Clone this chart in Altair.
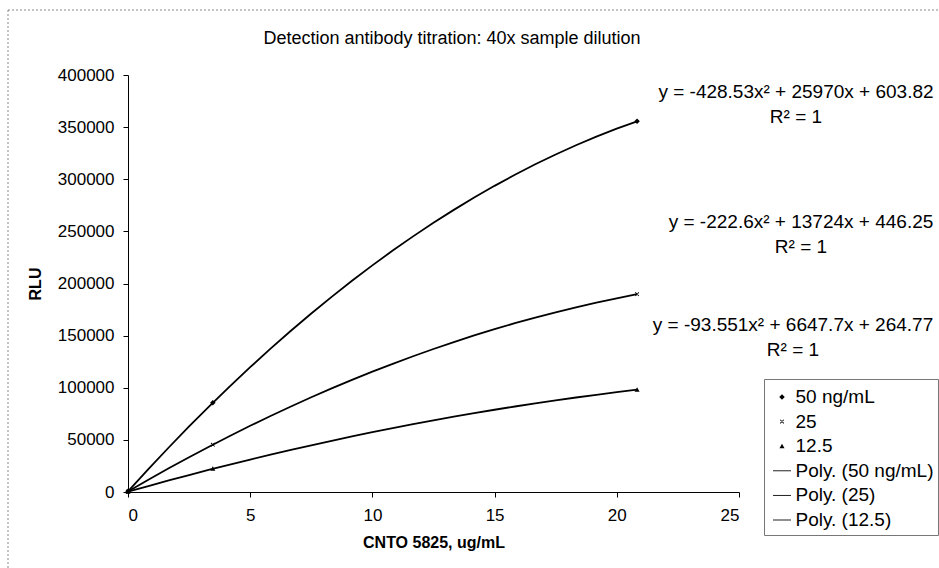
import altair as alt
import pandas as pd

# ---------------- data ----------------
series_names = ["50 ng/mL", "25", "12.5"]
conc_ug_ml = [0.0, 3.47, 20.83]
rlu_50 = [604, 85550, 355600]
rlu_25 = [446, 45390, 189700]
rlu_12_5 = [265, 22200, 98100]

legend_entries = ["50 ng/mL", "25", "12.5",
                  "Poly. (50 ng/mL)", "Poly. (25)", "Poly. (12.5)"]
equation_lines = [
    "y = -428.53x² + 25970x + 603.82",
    "y = -222.6x² + 13724x + 446.25",
    "y = -93.551x² + 6647.7x + 264.77",
]
r2_line = "R² = 1"
x_ticks = [0, 5, 10, 15, 20, 25]
y_ticks = [0, 50000, 100000, 150000, 200000, 250000, 300000, 350000, 400000]
title_text = "Detection antibody titration: 40x sample dilution"
x_title = "CNTO 5825, ug/mL"
y_title = "RLU"

rows = []
for name, vals in zip(series_names, [rlu_50, rlu_25, rlu_12_5]):
    for c, v in zip(conc_ug_ml, vals):
        rows.append({"series": name, "conc": c, "rlu": v})
df = pd.DataFrame(rows)

FONT = "Liberation Sans"
W, H = 611, 417
PAD = {"left": 128, "top": 75, "right": 939 - 128 - W, "bottom": 568 - 75 - H}

# filled symbol shapes (custom paths in a [-1,1] box)
diamond = "M0,-0.22L0.22,0L0,0.22L-0.22,0Z"
xcross = ("M-0.17,-0.12L-0.12,-0.17L0.17,0.12L0.12,0.17Z"
          "M0.17,-0.12L0.12,-0.17L-0.17,0.12L-0.12,0.17Z")
triangle = "M0,-0.2L0.2,0.16L-0.2,0.16Z"
line_sym = "M-0.72,-0.035L0.72,-0.035L0.72,0.035L-0.72,0.035Z"

x_enc = alt.X("conc:Q", scale=alt.Scale(domain=[0, 25], nice=False),
              axis=alt.Axis(values=x_ticks, title=x_title, format="d",
                            titleFontSize=16, titleFontWeight="bold",
                            titleFont=FONT, titleY=50, titleBaseline="middle",
                            labelPadding=10))
y_enc = alt.Y("rlu:Q", scale=alt.Scale(domain=[0, 400000], nice=False),
              axis=alt.Axis(values=y_ticks, title=y_title, format="d",
                            titleFontSize=16, titleFontWeight="bold",
                            titleFont=FONT, titleX=-93, titleY=H / 2,
                            titleAngle=-90, titleBaseline="middle",
                            titleAlign="center", labelPadding=9))

curves = alt.Chart(df).transform_regression(
    "conc", "rlu", groupby=["series"], method="poly", order=2
).mark_line(color="black", strokeWidth=1.8).encode(
    x=x_enc, y=y_enc, detail="series:N"
)

points = alt.Chart(df).mark_point(
    filled=True, color="black", size=625, opacity=1
).encode(
    x="conc:Q",
    y="rlu:Q",
    shape=alt.Shape(
        "series:N",
        scale=alt.Scale(domain=legend_entries,
                        range=[diamond, xcross, triangle,
                               line_sym, line_sym, line_sym]),
        legend=alt.Legend(
            title=None, orient="none", legendX=636, legendY=304,
            symbolSize=625, labelFontSize=19, labelFont=FONT,
            labelColor="black", labelOffset=0, rowPadding=0.6, padding=4.5,
            strokeColor="#777", labelLimit=300,
            symbolFillColor="black", symbolOpacity=1,
        ),
    ),
)

# annotations (trend-line equations, title, chart border)
one = pd.DataFrame({"k": [0]})
eq_pos = [(796, 92), (801, 222), (793, 325)]
eq_layers = []
for txt, (px, py) in zip(equation_lines, eq_pos):
    eq_layers.append(
        alt.Chart(pd.DataFrame({"t": [txt + "\n" + r2_line]})).mark_text(
            font=FONT, fontSize=19, color="black", align="center",
            baseline="middle", lineBreak="\n", lineHeight=25
        ).encode(text="t:N", x=alt.value(px - 128), y=alt.value(py - 75))
    )

title = alt.Chart(pd.DataFrame({"t": [title_text]})).mark_text(
    font=FONT, fontSize=18, color="black", align="center", baseline="middle"
).encode(text="t:N", x=alt.value(324), y=alt.value(-36))

border = alt.Chart(one).mark_rect(
    fillOpacity=0, stroke="#888", strokeWidth=1, strokeDash=[2, 2]
).encode(x=alt.value(-120), x2=alt.value(830), y=alt.value(-65), y2=alt.value(510))

chart = alt.layer(border, curves, points, title, *eq_layers).properties(
    width=W, height=H,
    autosize=alt.AutoSizeParams(type="none"),
    padding=PAD,
).configure_view(stroke=None).configure_axis(
    grid=False, domainColor="black", tickColor="black", tickSize=5,
    labelFont=FONT, labelFontSize=17, labelColor="black", titleColor="black",
    domainWidth=1, tickWidth=1,
)

chart.save("out.html", embed_options={"renderer": "svg", "actions": False})
